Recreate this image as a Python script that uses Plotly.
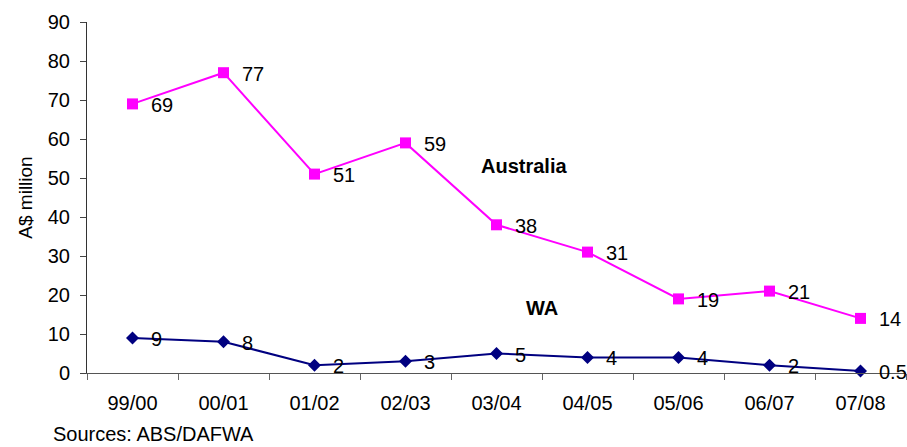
import plotly.graph_objects as go

years = ["99/00", "00/01", "01/02", "02/03", "03/04", "04/05", "05/06", "06/07", "07/08"]
australia = [69, 77, 51, 59, 38, 31, 19, 21, 14]
wa = [9, 8, 2, 3, 5, 4, 4, 2, 0.5]
y_ticks = [0, 10, 20, 30, 40, 50, 60, 70, 80, 90]

FONT = "Liberation Sans, Arial, sans-serif"
FS = 20

fig = go.Figure()
fig.add_trace(go.Scatter(
    x=years, y=australia, mode="lines+markers", name="Australia",
    line=dict(color="#FF00FF", width=2),
    marker=dict(symbol="square", size=11, color="#FF00FF"),
    cliponaxis=False,
))
fig.add_trace(go.Scatter(
    x=years, y=wa, mode="lines+markers", name="WA",
    line=dict(color="#000080", width=2),
    marker=dict(symbol="diamond", size=10, color="#000080"),
    cliponaxis=False,
))

annotations = []
for series in (australia, wa):
    for yr, v in zip(years, series):
        annotations.append(dict(
            x=yr, y=v, xref="x", yref="y", text=str(v), showarrow=False,
            xanchor="left", yanchor="middle", xshift=16, yshift=-1,
            font=dict(family=FONT, size=FS, color="black"),
        ))

annotations += [
    dict(x=4.3, y=53.1, xref="x", yref="y", text="<b>Australia</b>", showarrow=False,
         xanchor="center", yanchor="middle", font=dict(family=FONT, size=FS, color="black")),
    dict(x=4.5, y=16.7, xref="x", yref="y", text="<b>WA</b>", showarrow=False,
         xanchor="center", yanchor="middle", font=dict(family=FONT, size=FS, color="black")),
    dict(x=(51 - 87) / (906 - 87), y=(373 - 434) / (373 - 22), xref="paper", yref="paper",
         text="Sources: ABS/DAFWA", showarrow=False,
         xanchor="left", yanchor="middle", font=dict(family=FONT, size=FS, color="black")),
]

fig.update_layout(
    width=907, height=447,
    margin=dict(l=87, r=1, t=22, b=74),
    paper_bgcolor="white", plot_bgcolor="white",
    showlegend=False,
    font=dict(family=FONT, size=FS, color="black"),
    annotations=annotations,
    xaxis=dict(
        type="category", tickson="boundaries", ticks="outside", ticklen=6,
        tickcolor="#666", showline=True, linecolor="#555", linewidth=1,
        showgrid=False, tickfont=dict(size=FS), range=[-0.5, 8.5],
        ticklabelstandoff=12,
    ),
    yaxis=dict(
        range=[0, 90], tickvals=y_ticks, ticks="outside", ticklen=6,
        tickcolor="#444", showline=True, linecolor="#333", linewidth=1,
        showgrid=False, zeroline=False, tickfont=dict(size=FS),
        ticklabelstandoff=6,
        title=dict(text="A$ million", font=dict(size=19), standoff=10),
    ),
)

fig.write_html("out.html")
